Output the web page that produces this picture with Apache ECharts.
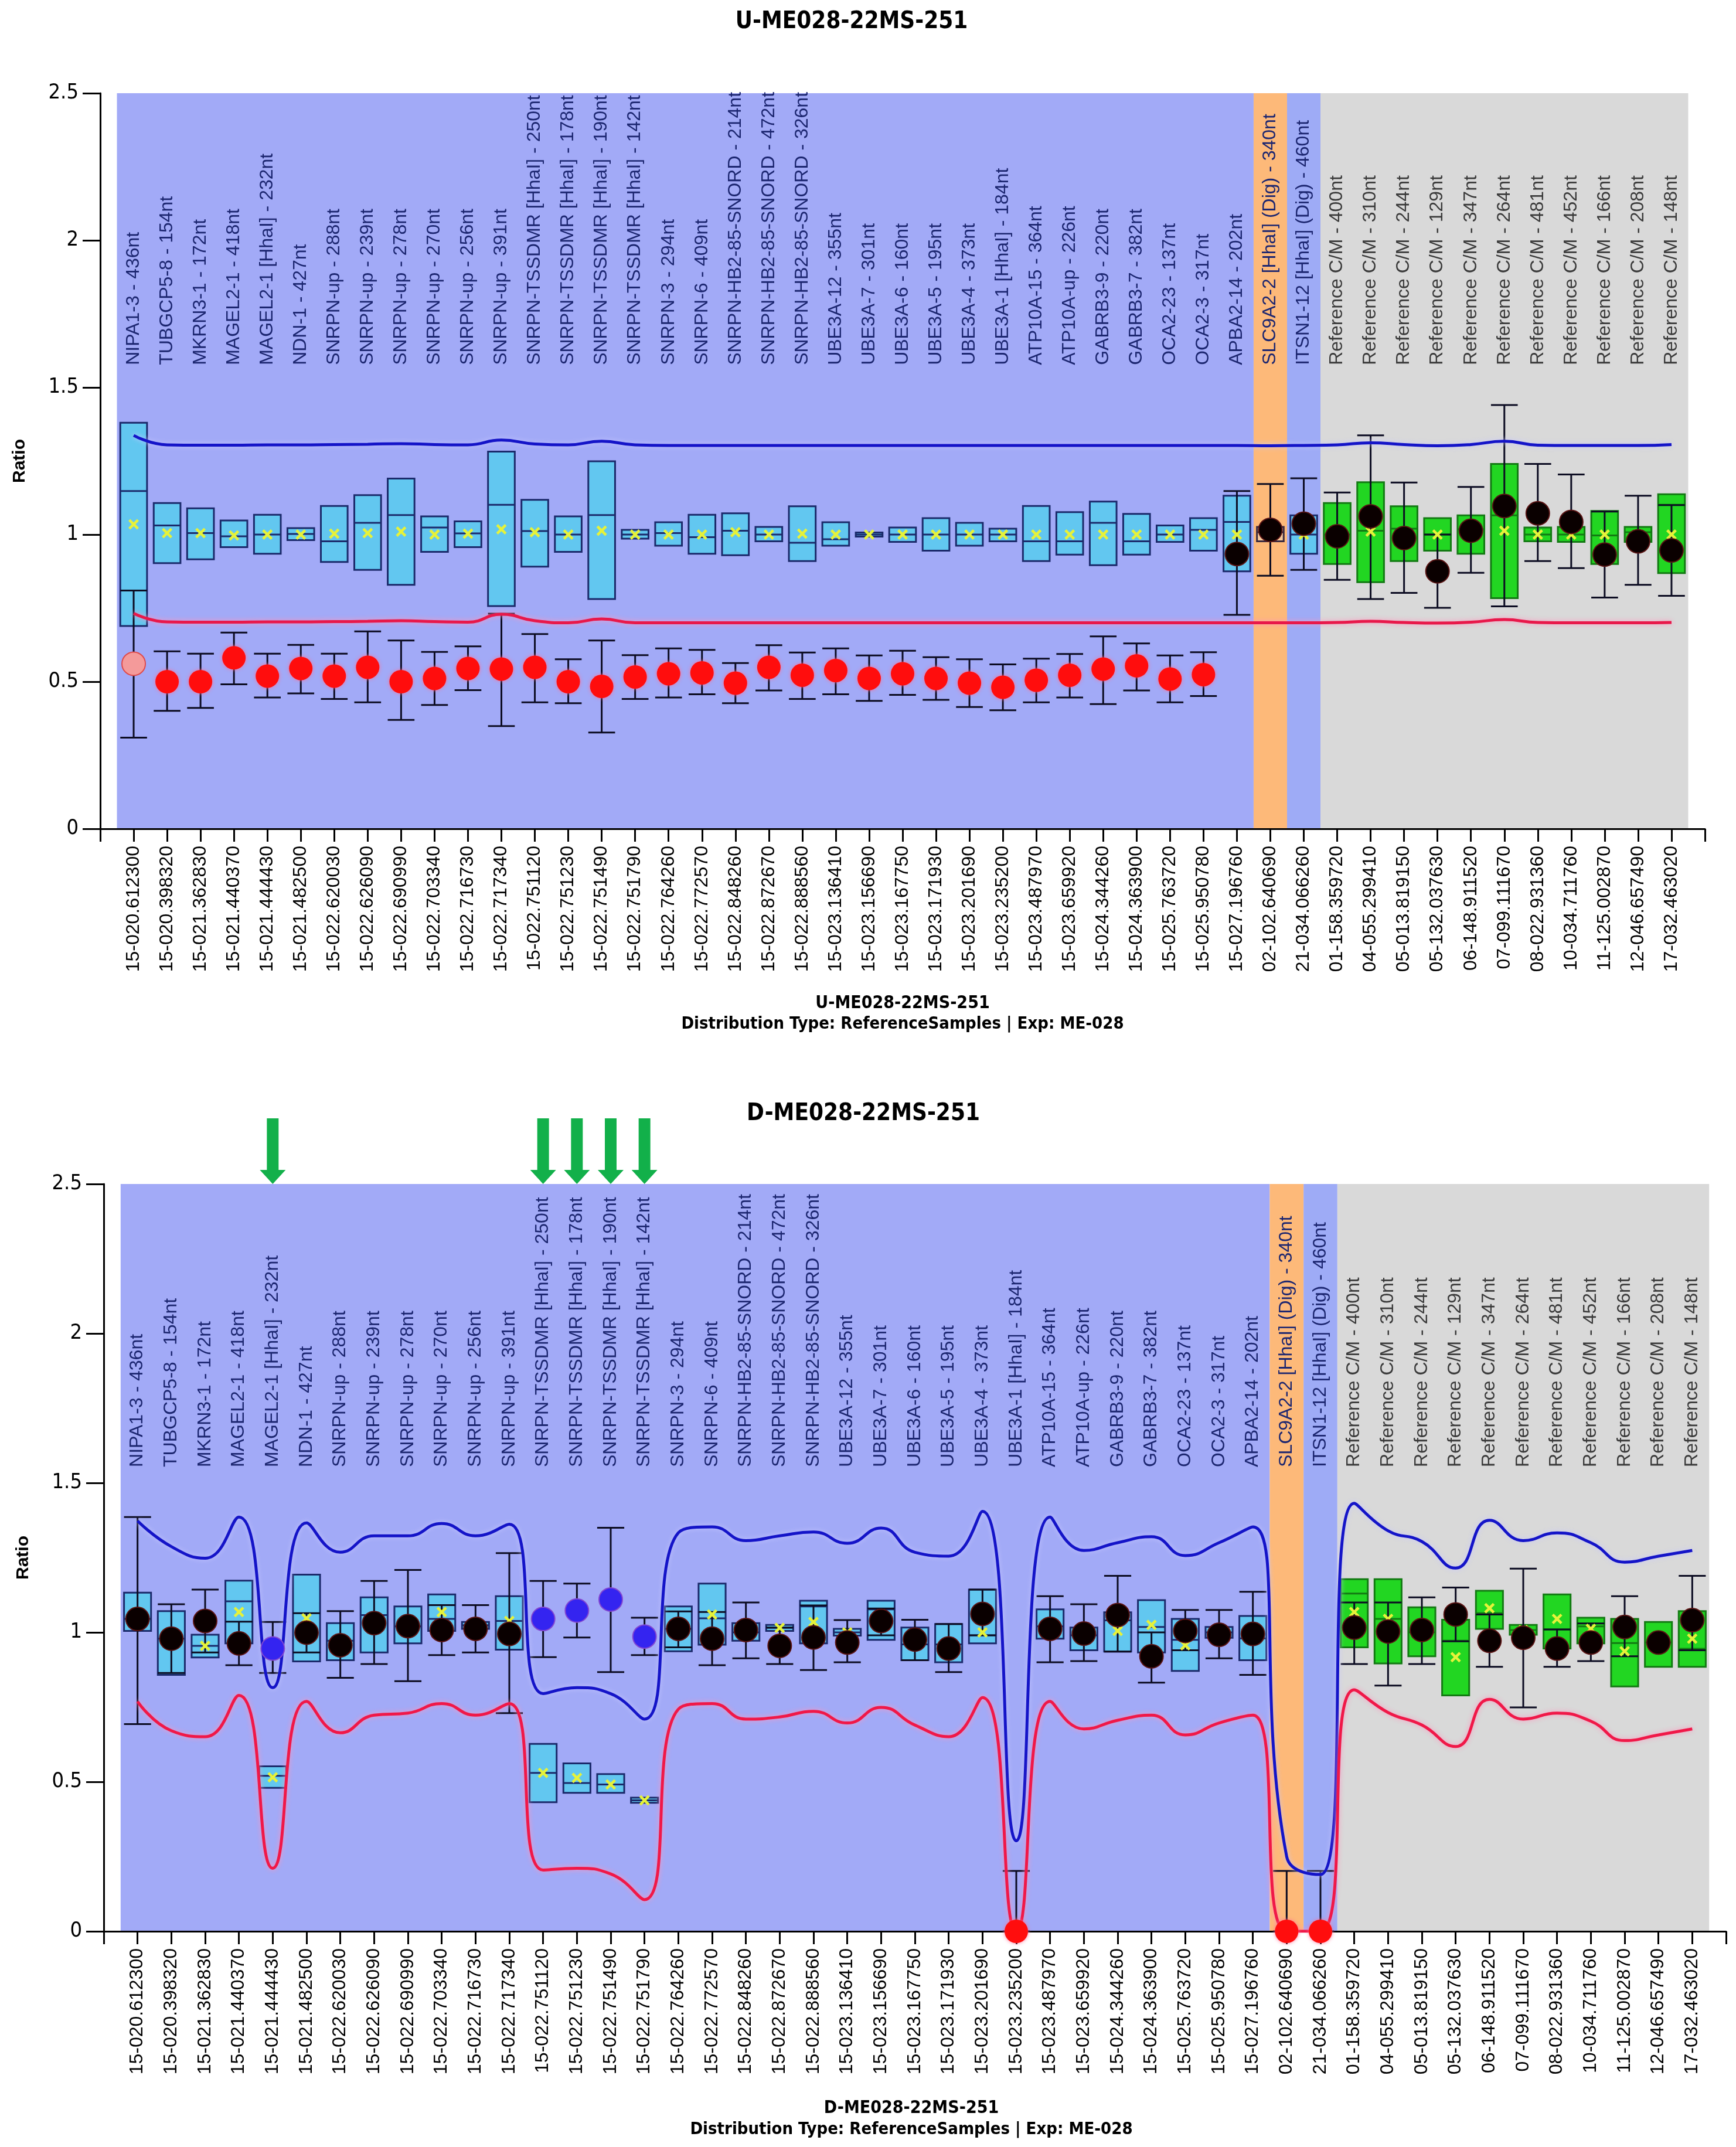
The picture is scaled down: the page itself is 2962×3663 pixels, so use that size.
<!DOCTYPE html>
<html>
<head>
<meta charset="utf-8">
<script src="https://cdn.jsdelivr.net/npm/echarts@6.0.0/dist/echarts.min.js"></script>
<style>html,body{margin:0;padding:0;background:#fff}#c{width:2962px;height:3663px}</style>
</head>
<body>
<div id="c"></div>
<script>
// ---------------- DATA ----------------
const probeLabels = ['NIPA1-3 - 436nt','TUBGCP5-8 - 154nt','MKRN3-1 - 172nt','MAGEL2-1 - 418nt','MAGEL2-1 [HhaI] - 232nt','NDN-1 - 427nt','SNRPN-up - 288nt','SNRPN-up - 239nt','SNRPN-up - 278nt','SNRPN-up - 270nt','SNRPN-up - 256nt','SNRPN-up - 391nt','SNRPN-TSSDMR [HhaI] - 250nt','SNRPN-TSSDMR [HhaI] - 178nt','SNRPN-TSSDMR [HhaI] - 190nt','SNRPN-TSSDMR [HhaI] - 142nt','SNRPN-3 - 294nt','SNRPN-6 - 409nt','SNRPN-HB2-85-SNORD - 214nt','SNRPN-HB2-85-SNORD - 472nt','SNRPN-HB2-85-SNORD - 326nt','UBE3A-12 - 355nt','UBE3A-7 - 301nt','UBE3A-6 - 160nt','UBE3A-5 - 195nt','UBE3A-4 - 373nt','UBE3A-1 [HhaI] - 184nt','ATP10A-15 - 364nt','ATP10A-up - 226nt','GABRB3-9 - 220nt','GABRB3-7 - 382nt','OCA2-23 - 137nt','OCA2-3 - 317nt','APBA2-14 - 202nt','SLC9A2-2 [HhaI] (Dig) - 340nt','ITSN1-12 [HhaI] (Dig) - 460nt','Reference C/M - 400nt','Reference C/M - 310nt','Reference C/M - 244nt','Reference C/M - 129nt','Reference C/M - 347nt','Reference C/M - 264nt','Reference C/M - 481nt','Reference C/M - 452nt','Reference C/M - 166nt','Reference C/M - 208nt','Reference C/M - 148nt'];
const sampleIds = ['15-020.612300','15-020.398320','15-021.362830','15-021.440370','15-021.444430','15-021.482500','15-022.620030','15-022.626090','15-022.690990','15-022.703340','15-022.716730','15-022.717340','15-022.751120','15-022.751230','15-022.751490','15-022.751790','15-022.764260','15-022.772570','15-022.848260','15-022.872670','15-022.888560','15-023.136410','15-023.156690','15-023.167750','15-023.171930','15-023.201690','15-023.235200','15-023.487970','15-023.659920','15-024.344260','15-024.363900','15-025.763720','15-025.950780','15-027.196760','02-102.640690','21-034.066260','01-158.359720','04-055.299410','05-013.819150','05-132.037630','06-148.911520','07-099.111670','08-022.931360','10-034.711760','11-125.002870','12-046.657490','17-032.463020'];
const yTicks = [0, 0.5, 1, 1.5, 2, 2.5];

// band groups (category index ranges)
const bandFirst = [0, 34, 35, 36];
const bandLast  = [33, 34, 35, 46];

// ---- U-ME028-22MS-251 (top) ----
const uBoxLow  = [0.689,0.903,0.916,0.957,0.935,0.981,0.907,0.880,0.829,0.941,0.957,0.757,0.891,0.941,0.781,0.986,0.962,0.935,0.930,0.977,0.910,0.962,0.993,0.975,0.945,0.962,0.977,0.910,0.932,0.896,0.932,0.975,0.945,0.875,0.977,0.935,0.900,0.838,0.910,0.945,0.935,0.784,0.977,0.975,0.900,0.975,0.869];
const uBoxHigh = [1.380,1.107,1.089,1.048,1.067,1.022,1.097,1.134,1.190,1.062,1.045,1.282,1.118,1.062,1.249,1.016,1.042,1.067,1.072,1.026,1.096,1.042,1.007,1.024,1.056,1.040,1.020,1.097,1.076,1.112,1.070,1.031,1.056,1.132,1.026,1.065,1.107,1.178,1.096,1.056,1.065,1.240,1.024,1.026,1.080,1.026,1.137];
const uBoxMed  = [1.148,1.031,1.005,0.994,1.000,1.002,0.977,1.040,1.066,1.024,1.004,1.101,1.012,1.000,1.066,1.000,1.005,0.991,1.013,1.000,0.972,0.984,1.000,1.000,1.000,1.000,1.000,0.977,0.977,1.040,0.977,1.000,1.016,1.043,1.008,1.000,1.000,1.013,1.020,1.000,1.018,1.065,1.000,1.000,0.997,1.008,1.101];
const uMean    = [1.035,1.005,1.005,0.997,1.000,1.000,1.003,1.005,1.010,1.000,1.003,1.018,1.008,1.000,1.013,1.000,1.000,1.000,1.008,1.000,1.003,1.000,1.000,1.000,1.000,1.000,1.000,1.000,1.000,1.000,1.000,1.000,1.000,1.000,1.000,1.000,1.000,1.010,1.000,1.000,1.000,1.013,1.000,1.000,1.000,1.000,1.000];
const uDot     = [0.561,0.500,0.500,0.581,0.519,0.545,0.519,0.549,0.500,0.511,0.545,0.543,0.549,0.500,0.484,0.516,0.527,0.530,0.495,0.549,0.522,0.538,0.511,0.527,0.511,0.495,0.481,0.505,0.522,0.543,0.554,0.509,0.524,0.934,1.016,1.037,0.994,1.062,0.988,0.875,1.013,1.097,1.072,1.043,0.932,0.977,0.946];
const uDotLow  = [0.310,0.401,0.411,0.491,0.446,0.460,0.441,0.430,0.370,0.421,0.471,0.349,0.430,0.427,0.327,0.441,0.446,0.457,0.427,0.470,0.441,0.457,0.435,0.455,0.438,0.414,0.403,0.430,0.446,0.424,0.470,0.430,0.451,0.727,0.860,0.880,0.846,0.781,0.802,0.751,0.870,0.756,0.910,0.886,0.786,0.829,0.792];
const uDotHigh = [0.810,0.603,0.595,0.667,0.595,0.625,0.595,0.671,0.640,0.601,0.620,0.731,0.662,0.576,0.640,0.590,0.613,0.608,0.563,0.624,0.599,0.613,0.589,0.605,0.583,0.576,0.559,0.578,0.594,0.654,0.630,0.589,0.600,1.148,1.172,1.191,1.143,1.337,1.177,1.000,1.162,1.440,1.240,1.204,1.078,1.132,1.100];
const uDotKind = 'prrrrrrrrrrrrrrrrrrrrrrrrrrrrrrrrkkkkkkkkkkkkkk';
const uUpper   = [1.337,1.305,1.304,1.304,1.305,1.305,1.306,1.307,1.309,1.306,1.305,1.321,1.308,1.305,1.317,1.305,1.303,1.303,1.303,1.303,1.303,1.303,1.303,1.303,1.303,1.303,1.303,1.303,1.303,1.303,1.303,1.303,1.303,1.303,1.302,1.303,1.305,1.312,1.306,1.302,1.306,1.317,1.304,1.303,1.303,1.303,1.306];
const uLower   = [0.732,0.703,0.702,0.702,0.703,0.703,0.704,0.705,0.707,0.704,0.702,0.729,0.707,0.700,0.713,0.700,0.700,0.700,0.700,0.700,0.700,0.700,0.700,0.700,0.700,0.700,0.700,0.700,0.700,0.700,0.700,0.700,0.700,0.700,0.700,0.700,0.701,0.705,0.701,0.699,0.702,0.711,0.701,0.700,0.700,0.700,0.701];

// ---- D-ME028-22MS-251 (bottom) ----
const dBoxLow  = [1.005,0.858,0.916,0.963,0.480,0.903,0.907,0.933,0.963,1.005,1.012,0.942,0.432,0.463,0.463,0.430,0.937,0.959,0.972,1.005,0.963,0.989,0.975,0.907,0.900,0.963,null,0.979,0.940,0.936,0.933,0.871,0.982,0.907,null,null,0.950,0.896,0.920,0.789,1.012,0.992,0.946,0.963,0.819,0.885,0.885];
const dBoxHigh = [1.133,1.071,0.992,1.173,0.552,1.193,1.031,1.117,1.087,1.127,1.035,1.121,0.627,0.562,0.526,0.447,1.087,1.163,1.031,1.025,1.106,1.012,1.106,1.016,1.028,1.143,null,1.077,1.016,1.067,1.108,1.045,1.018,1.055,null,null,1.178,1.178,1.084,1.042,1.139,1.025,1.127,1.049,1.045,1.035,1.071];
const dBoxMed  = [1.045,0.979,0.955,1.104,0.520,null,0.972,1.058,1.020,1.045,1.024,1.038,0.530,0.496,0.491,0.438,1.012,1.047,1.000,1.015,1.087,1.000,1.077,0.960,0.960,0.990,null,1.020,0.990,1.040,1.018,0.975,1.000,0.980,null,null,1.130,1.045,1.000,0.972,1.064,1.008,1.010,1.020,0.964,0.966,0.945];
const dMean    = [1.068,0.985,0.955,1.068,0.515,1.047,0.972,1.040,1.015,1.068,1.024,1.038,0.530,0.513,0.491,0.438,1.012,1.060,1.000,1.015,1.035,1.000,1.060,0.965,0.960,1.000,null,1.020,0.990,1.005,1.025,0.957,1.000,0.985,null,null,1.068,1.045,1.000,0.917,1.081,1.008,1.045,1.012,0.937,0.966,0.979];
const dDot     = [1.045,0.979,1.038,0.963,0.946,0.999,0.957,1.031,1.021,1.008,1.012,0.995,1.045,1.073,1.110,0.986,1.012,0.979,1.008,0.955,0.983,0.966,1.038,0.976,0.946,1.062,0.000,1.012,0.996,1.058,0.920,1.005,0.992,0.995,0.000,0.000,1.016,1.003,1.008,1.060,0.972,0.982,0.946,0.966,1.018,0.966,1.041];
const dDotLow  = [0.693,0.864,0.933,0.890,0.864,0.933,0.848,0.894,0.837,0.924,0.933,0.730,0.917,0.983,0.867,0.924,0.950,0.890,0.913,0.894,0.874,0.900,0.990,0.907,0.867,0.990,0.000,0.900,0.904,0.936,0.832,0.940,0.913,0.858,0.000,0.000,0.894,0.822,0.894,0.970,0.885,0.749,0.885,0.904,0.920,null,0.940];
const dDotHigh = [1.386,1.094,1.143,1.036,1.035,1.064,1.071,1.172,1.209,1.091,1.091,1.265,1.172,1.163,1.350,1.049,1.070,1.068,1.100,1.016,1.090,1.041,1.080,1.042,1.028,1.143,0.202,1.121,1.094,1.189,1.000,1.075,1.075,1.136,0.202,0.202,1.100,1.100,1.117,1.150,1.060,1.213,1.010,1.030,1.121,null,1.189];
const dDotKind = 'kkkkbkkkkkkkbbbbkkkkkkkkkkrkkkkkkkrrkkkkkkkkkkk';
const dUpper   = [1.373,1.287,1.248,1.386,0.815,1.366,1.268,1.323,1.323,1.364,1.323,1.362,0.795,0.815,0.795,0.710,1.333,1.353,1.307,1.323,1.336,1.298,1.349,1.268,1.255,1.405,0.303,1.386,1.274,1.300,1.320,1.257,1.300,1.353,0.250,0.190,1.432,1.340,1.304,1.215,1.375,1.307,1.333,1.300,1.235,1.255,1.274];
const dLower   = [0.769,0.671,0.651,0.789,0.211,0.769,0.664,0.723,0.730,0.762,0.723,0.762,0.205,0.211,0.192,0.106,0.743,0.762,0.710,0.717,0.736,0.697,0.749,0.690,0.651,0.782,0.000,0.769,0.677,0.706,0.723,0.657,0.697,0.723,0.000,0.000,0.808,0.732,0.690,0.618,0.776,0.710,0.730,0.703,0.638,0.657,0.677];
const dArrowCats = [4, 12, 13, 14, 15];

// ---------------- STYLE ----------------
const FONT = "'Liberation Sans', Arial, sans-serif";
const NARROW = "'Liberation Sans Narrow', 'Arial Narrow', 'DejaVu Sans Condensed', sans-serif";
const bandColors = ['#a2aaf7', '#fdb979', '#9eabf6', '#d9d9d9'];
const boxStyle = {
  c: {fill: '#62c7f0', stroke: '#1b2a6b'},
  o: {fill: '#f6c99c', stroke: '#3a2a40'},
  g: {fill: '#22d622', stroke: '#137a13'}
};
const dotStyle = {
  r: {color: '#ff0d0d', opacity: 1, shadowBlur: 6, shadowColor: 'rgba(255,110,150,0.9)'},
  p: {color: '#f49a9a', opacity: 1, borderColor: '#e04a4a', borderWidth: 2},
  k: {color: '#0a0000', opacity: 1, borderColor: '#5a1414', borderWidth: 2},
  b: {color: '#3424f0', opacity: 1, borderColor: '#8448d0', borderWidth: 2}
};
const boxKind = i => i >= 36 ? 'g' : (i === 34 ? 'o' : 'c');

function bandSeries(gi) {
  return {
    type: 'custom', xAxisIndex: gi, yAxisIndex: gi, z: 0, silent: true,
    data: bandFirst.map((f, k) => [f, bandLast[k], k]),
    renderItem: (p, api) => {
      const a = api.coord([api.value(0) - 0.5, yTicks[yTicks.length - 1]]);
      const b = api.coord([api.value(1) + 0.5, yTicks[0]]);
      return {type: 'rect', shape: {x: a[0], y: a[1], width: b[0] - a[0], height: b[1] - a[1]},
        style: {fill: bandColors[api.value(2)]}};
    }
  };
}
function labelSeries(gi, base) {
  return {
    type: 'custom', xAxisIndex: gi, yAxisIndex: gi, z: 1, silent: true,
    data: probeLabels.map((t, i) => [i]),
    renderItem: (p, api) => {
      const i = api.value(0);
      const pt = api.coord([i, base]);
      return {type: 'text', x: pt[0], y: pt[1], rotation: Math.PI / 2,
        style: {text: probeLabels[i], font: '32px ' + FONT, fill: i >= 36 ? '#3a3a3a' : '#1c2670',
          textAlign: 'left', textVerticalAlign: 'middle'}};
    }
  };
}
function boxSeries(gi, lo, hi, md) {
  const data = [];
  lo.forEach((l, i) => { if (l != null) data.push([i, l, hi[i], md[i] == null ? -1 : md[i]]); });
  return {
    type: 'custom', xAxisIndex: gi, yAxisIndex: gi, z: 2, silent: true, data,
    renderItem: (p, api) => {
      const i = api.value(0), m = api.value(3);
      const w = api.size([1, 0])[0] * 0.8;
      const a = api.coord([i, api.value(2)]), b = api.coord([i, api.value(1)]);
      const st = boxStyle[boxKind(i)];
      const ch = [{type: 'rect', shape: {x: a[0] - w / 2, y: a[1], width: w, height: b[1] - a[1]},
        style: {fill: st.fill, stroke: st.stroke, lineWidth: 3}}];
      if (m >= 0) {
        const c = api.coord([i, m]);
        ch.push({type: 'line', shape: {x1: a[0] - w / 2, y1: c[1], x2: a[0] + w / 2, y2: c[1]},
          style: {stroke: st.stroke, lineWidth: 3}});
      }
      return {type: 'group', children: ch};
    }
  };
}
function whiskerSeries(gi, lo, hi) {
  const data = [];
  lo.forEach((l, i) => { if (l != null) data.push([i, l, hi[i]]); });
  return {
    type: 'custom', xAxisIndex: gi, yAxisIndex: gi, z: 3, silent: true, data, clip: false,
    renderItem: (p, api) => {
      const i = api.value(0);
      const w = api.size([1, 0])[0] * 0.8;
      const a = api.coord([i, api.value(2)]), b = api.coord([i, api.value(1)]);
      const s = {stroke: '#0c0c22', lineWidth: 3};
      return {type: 'group', children: [
        {type: 'line', shape: {x1: a[0], y1: a[1], x2: b[0], y2: b[1]}, style: s},
        {type: 'line', shape: {x1: a[0] - w / 2, y1: a[1], x2: a[0] + w / 2, y2: a[1]}, style: s},
        {type: 'line', shape: {x1: b[0] - w / 2, y1: b[1], x2: b[0] + w / 2, y2: b[1]}, style: s}
      ]};
    }
  };
}
function lineSeries(gi, vals, color, glow) {
  return {
    type: 'line', xAxisIndex: gi, yAxisIndex: gi, z: 4, silent: true, smooth: 0.5,
    symbol: 'none', data: vals.map((v, i) => [i, v]),
    lineStyle: {color, width: 5, shadowBlur: 8, shadowColor: glow}
  };
}
function meanSeries(gi, vals) {
  const data = [];
  vals.forEach((v, i) => { if (v != null) data.push([i, v]); });
  return {
    type: 'scatter', xAxisIndex: gi, yAxisIndex: gi, z: 5, silent: true, data,
    symbol: 'path://M0,1.8L1.8,0L5,3.2L8.2,0L10,1.8L6.8,5L10,8.2L8.2,10L5,6.8L1.8,10L0,8.2L3.2,5Z',
    symbolSize: 18, itemStyle: {color: '#e6f23a', opacity: 1}
  };
}
function dotSeries(gi, vals, kinds) {
  return {
    type: 'scatter', xAxisIndex: gi, yAxisIndex: gi, z: 6, silent: true, clip: false,
    symbolSize: 40,
    data: vals.map((v, i) => ({value: [i, v], itemStyle: dotStyle[kinds[i]]}))
  };
}
function arrowSeries(gi, cats) {
  return {
    type: 'custom', xAxisIndex: gi, yAxisIndex: gi, z: 7, silent: true, clip: false,
    data: cats.map(i => [i]),
    renderItem: (p, api) => {
      const t = api.coord([api.value(0), yTicks[yTicks.length - 1]]);
      const x = t[0], y = t[1];
      return {type: 'polygon', shape: {points: [[x - 10, y - 112], [x + 10, y - 112], [x + 10, y - 24], [x + 22, y - 24], [x, y], [x - 22, y - 24], [x - 10, y - 24]]},
        style: {fill: '#12b04a'}};
    }
  };
}
function xAx(gi) {
  return {
    type: 'value', gridIndex: gi, min: -1, max: sampleIds.length, interval: 1,
    axisLine: {show: true, onZero: false, lineStyle: {color: '#000', width: 3}},
    axisTick: {show: true, length: 22, lineStyle: {color: '#000', width: 3}},
    splitLine: {show: false},
    axisLabel: {rotate: 90, margin: 29, fontSize: 32, fontFamily: FONT, color: '#000',
      formatter: v => (Number.isInteger(v) && v >= 0 && v < sampleIds.length) ? sampleIds[v] : ''}
  };
}
function yAx(gi) {
  return {
    type: 'value', gridIndex: gi, min: yTicks[0], max: yTicks[yTicks.length - 1], interval: 0.5,
    axisLine: {show: true, onZero: false, lineStyle: {color: '#000', width: 3}},
    axisTick: {show: true, length: 30, lineStyle: {color: '#000', width: 3}},
    splitLine: {show: false},
    axisLabel: {margin: 37, fontSize: 36, fontFamily: NARROW, color: '#000'},
    name: 'Ratio', nameLocation: 'middle', nameGap: 122, nameRotate: 90,
    nameTextStyle: {fontSize: 30, fontWeight: 'bold', fontFamily: FONT, color: '#000'}
  };
}
function txt(x, y, text, size) {
  return {type: 'text', x, y, silent: true,
    style: {text, font: 'bold ' + size + 'px ' + NARROW, fill: '#000', textAlign: 'center', textVerticalAlign: 'middle'}};
}

const chart = echarts.init(document.getElementById('c'), null, {renderer: 'canvas'});
chart.setOption({
  animation: false,
  backgroundColor: '#ffffff',
  grid: [
    {left: 171, right: 53, top: 159, height: 1255},
    {left: 177, right: 17, top: 2020, height: 1275}
  ],
  xAxis: [xAx(0), xAx(1)],
  yAxis: [yAx(0), yAx(1)],
  graphic: [
    txt(1453, 38, 'U-ME028-22MS-251', 40),
    txt(1540, 1712, 'U-ME028-22MS-251', 30),
    txt(1540, 1747, 'Distribution Type: ReferenceSamples | Exp: ME-028', 29),
    txt(1473, 1901, 'D-ME028-22MS-251', 40),
    txt(1555, 3597, 'D-ME028-22MS-251', 30),
    txt(1555, 3633, 'Distribution Type: ReferenceSamples | Exp: ME-028', 29)
  ],
  series: [
    bandSeries(0), labelSeries(0, 1.576),
    boxSeries(0, uBoxLow, uBoxHigh, uBoxMed),
    whiskerSeries(0, uDotLow, uDotHigh),
    lineSeries(0, uUpper, '#1414c8', 'rgba(200,200,255,0.9)'),
    lineSeries(0, uLower, '#e8184a', 'rgba(255,150,190,0.95)'),
    meanSeries(0, uMean),
    dotSeries(0, uDot, uDotKind),

    bandSeries(1), labelSeries(1, 1.553),
    boxSeries(1, dBoxLow, dBoxHigh, dBoxMed),
    whiskerSeries(1, dDotLow, dDotHigh),
    lineSeries(1, dUpper, '#1414c8', 'rgba(200,200,255,0.9)'),
    lineSeries(1, dLower, '#f01848', 'rgba(255,150,190,0.95)'),
    meanSeries(1, dMean),
    dotSeries(1, dDot, dDotKind),
    arrowSeries(1, dArrowCats)
  ]
});
</script>
</body>
</html>
